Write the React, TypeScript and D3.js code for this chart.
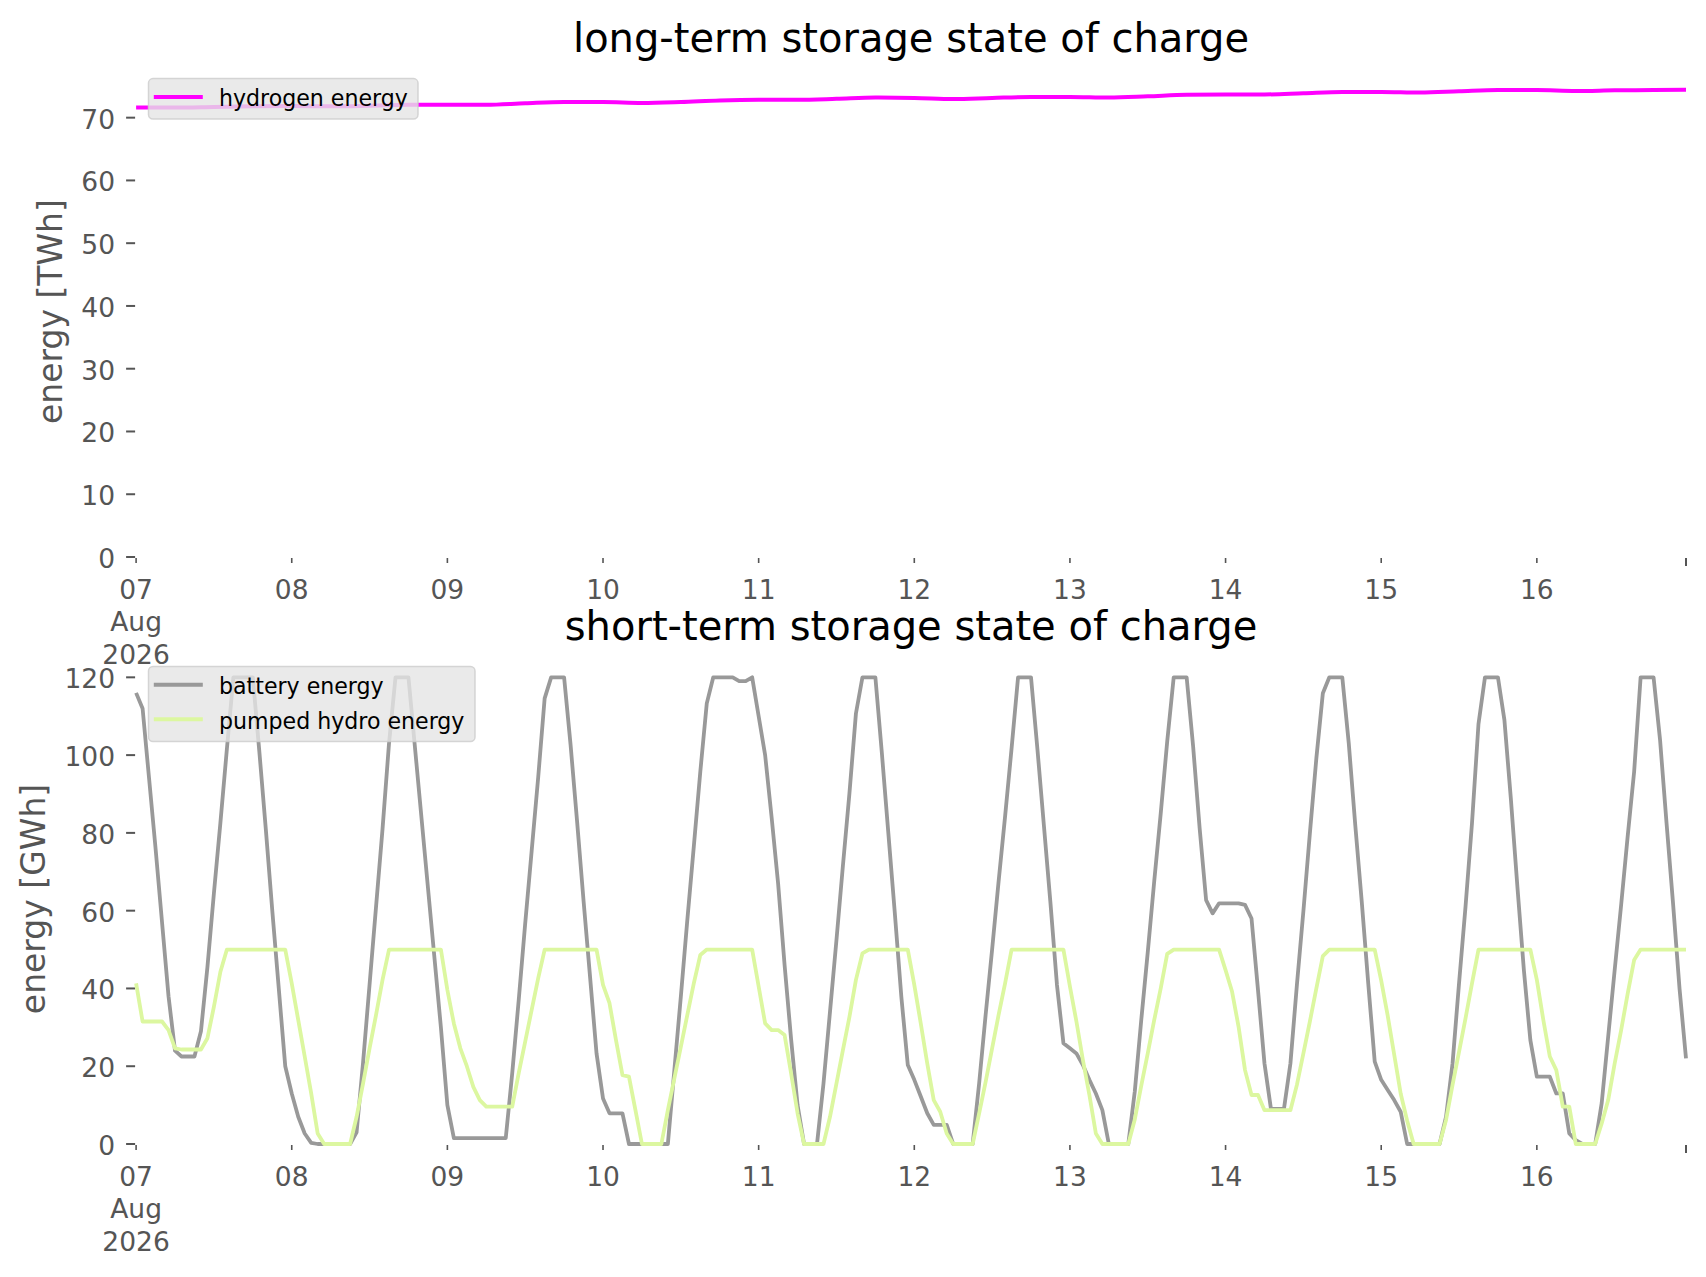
import React from 'react';
import * as d3 from 'd3';

const START = Date.UTC(2026, 7, 7, 0);
const HOUR = 3600e3;

// hourly state of charge, GWh (Aug 07 00:00 .. Aug 16 23:00)
const batteryEnergy = [
  116, 112, 94, 76, 57, 38, 24, 22.5, 22.5, 22.5,
  29, 45.5, 64.5, 82.6, 101.6, 120, 120, 120, 120, 101,
  81, 60, 40, 20, 13, 7, 2.7, 0.3, 0, 0,
  0, 0, 0, 0, 3, 21, 41, 61, 81, 103,
  120, 120, 120, 102, 84, 66, 48, 30, 10, 1.5,
  1.5, 1.5, 1.5, 1.5, 1.5, 1.5, 1.5, 1.5, 18.2, 37,
  56.7, 75.4, 94.2, 114.6, 120, 120, 120, 102.6, 83, 62.5,
  43, 23.3, 11.7, 7.9, 7.9, 7.9, 0, 0, 0, 0,
  0, 0, 0, 19, 37.9, 57.6, 76.5, 95.7, 113.3, 120,
  120, 120, 120, 119, 119, 120, 110, 100, 84, 67,
  46, 27, 10, 0, 0, 0, 15.6, 34, 52.5, 71.7,
  90.2, 110.7, 120, 120, 120, 100.5, 79.9, 59.3, 37.9, 20.3,
  16.5, 12.2, 7.9, 4.9, 4.9, 4.9, 0, 0, 0, 0,
  15.6, 33.2, 50, 67.5, 84.2, 101.7, 120, 120, 120, 101.3,
  81.6, 61.9, 40.9, 25.9, 24.6, 23.3, 20.3, 16.5, 13, 8.7,
  0, 0, 0, 0, 13.5, 31.9, 49.3, 67.6, 85, 103.5,
  120, 120, 120, 102.2, 81.2, 62.7, 59.3, 61.9, 61.9, 61.9,
  61.9, 61.5, 58, 39.6, 20.7, 9, 9, 9, 20.7, 40.9,
  59.9, 79.9, 99.2, 115.9, 120, 120, 120, 103, 82, 62.3,
  41.3, 21.2, 16.5, 13.9, 11.3, 8.3, 0, 0, 0, 0,
  0, 0, 7, 20.7, 41.3, 61, 82.5, 108, 120, 120,
  120, 109, 88.6, 66.2, 44.7, 26.7, 17.3, 17.3, 17.3, 13,
  13, 2.7, 1, 0, 0, 0, 10.5, 27.6, 44.7, 61.5,
  79, 95.7, 120, 120, 120, 103.9, 82.5, 61.9, 40, 22,
];

const pumpedHydroEnergy = [
  41.3, 31.5, 31.5, 31.5, 31.5, 29.3, 24.6, 24.3, 24.3, 24.3,
  24.3, 27.2, 35.3, 44.3, 50, 50, 50, 50, 50, 50,
  50, 50, 50, 50, 41.3, 31.9, 22.5, 13, 2.7, 0,
  0, 0, 0, 0, 7, 15.6, 24.6, 33.2, 42.2, 50,
  50, 50, 50, 50, 50, 50, 50, 50, 39.6, 31,
  24.6, 20, 14.7, 11.3, 9.6, 9.6, 9.6, 9.6, 9.6, 18.2,
  26.3, 34.5, 42.6, 50, 50, 50, 50, 50, 50, 50,
  50, 50, 40.9, 36.2, 26.7, 17.7, 17.3, 8.7, 0, 0,
  0, 0, 8.7, 16.9, 25, 33.2, 41.3, 48.6, 50, 50,
  50, 50, 50, 50, 50, 50, 40.5, 31, 29.3, 29.3,
  28, 18.2, 7.9, 0, 0, 0, 0, 7, 15.6, 24.2,
  32.7, 42.2, 49, 50, 50, 50, 50, 50, 50, 50,
  40.9, 31, 20.7, 11.3, 8.3, 2.7, 0, 0, 0, 0,
  7.9, 16, 24.6, 33.2, 41.3, 50, 50, 50, 50, 50,
  50, 50, 50, 50, 40.5, 31.5, 21.6, 12.6, 2.7, 0,
  0, 0, 0, 0, 6.3, 15, 23.3, 31.9, 40, 48.9,
  50, 50, 50, 50, 50, 50, 50, 50, 44.7, 39.2,
  30.2, 19, 12.6, 12.6, 8.7, 8.7, 8.7, 8.7, 8.7, 15.2,
  23.3, 31.5, 40, 48.3, 50, 50, 50, 50, 50, 50,
  50, 50, 42, 33, 23, 13, 6, 0, 0, 0,
  0, 0, 6.2, 15.2, 23.7, 32.3, 41.3, 50, 50, 50,
  50, 50, 50, 50, 50, 50, 42.2, 31.9, 22.5, 19,
  9.6, 9.6, 0, 0, 0, 0, 5.3, 11.3, 20.7, 29.3,
  38.6, 47.3, 50, 50, 50, 50, 50, 50, 50, 50,
];

// hydrogen state of charge, TWh, read every 6 hours
const hydrogenHours = [
  0, 6, 12, 18, 24, 30, 36, 42, 48, 54, 60, 66, 72, 78, 84, 90, 96, 102, 108, 114,
  120, 126, 132, 138, 144, 150, 156, 162, 168, 174, 180, 186, 192, 198, 204, 210,
  216, 222, 228, 234, 239,
];
const hydrogenEnergy = [
  71.6, 71.6, 71.7, 71.8, 71.85, 71.8, 71.9, 72.05, 72.05, 72.05, 72.3, 72.5, 72.5,
  72.35, 72.5, 72.75, 72.85, 72.85, 73.0, 73.2, 73.15, 72.97, 73.15, 73.3, 73.3,
  73.2, 73.4, 73.65, 73.7, 73.7, 73.9, 74.1, 74.1, 74.0, 74.2, 74.4, 74.4, 74.25,
  74.35, 74.4, 74.45,
];

const dayTickLabels = ['07\nAug\n2026', '08', '09', '10', '11', '12', '13', '14', '15', '16'];
const topYTicks = [0, 10, 20, 30, 40, 50, 60, 70];
const bottomYTicks = [0, 20, 40, 60, 80, 100, 120];

const FONT = '"DejaVu Sans", Verdana, sans-serif';
const TICK_COLOR = '#555555';
const C_H2 = '#ff00ff';
const C_BAT = '#999999';
const C_PHS = '#dcf7a0';

type Panel = {
  top: number;
  bottom: number;
  yMax: number;
  yTicks: number[];
  title: string;
  ylabel: string;
  ylabelX: number;
};

export default function App() {
  const W = 1706;
  const H = 1277;
  const x = d3
    .scaleUtc()
    .domain([new Date(START), new Date(START + 239 * HOUR)])
    .range([136.1, 1686]);

  const topPanel: Panel = {
    top: 66.2, bottom: 557, yMax: 78.2, yTicks: topYTicks,
    title: 'long-term storage state of charge', ylabel: 'energy [TWh]', ylabelX: 62,
  };
  const botPanel: Panel = {
    top: 654, bottom: 1144, yMax: 126, yTicks: bottomYTicks,
    title: 'short-term storage state of charge', ylabel: 'energy [GWh]', ylabelX: 45,
  };

  const yTop = d3.scaleLinear().domain([0, topPanel.yMax]).range([topPanel.bottom, topPanel.top]);
  const yBot = d3.scaleLinear().domain([0, botPanel.yMax]).range([botPanel.bottom, botPanel.top]);

  const lineTop = d3
    .line<number>()
    .x((_, i) => x(new Date(START + hydrogenHours[i] * HOUR)))
    .y((d) => yTop(d))
    .curve(d3.curveMonotoneX);
  const lineBot = d3
    .line<number>()
    .x((_, i) => x(new Date(START + i * HOUR)))
    .y((d) => yBot(d));

  const dayTicks = d3.utcDay.range(new Date(START), new Date(START + 240 * HOUR));
  const endTick = new Date(START + 239 * HOUR);

  const renderAxes = (p: Panel, y: d3.ScaleLinear<number, number>) => {
    const x0 = x.range()[0];
    const xMid = (x.range()[0] + x.range()[1]) / 2;
    return (
      <g>
        <text x={xMid} y={p.top - 14} textAnchor="middle" fontSize={40} fill="#000" fontFamily={FONT}>
          {p.title}
        </text>
        <text
          transform={`translate(${p.ylabelX},${(p.top + p.bottom) / 2}) rotate(-90)`}
          textAnchor="middle"
          fontSize={33}
          fill={TICK_COLOR}
          fontFamily={FONT}
        >
          {p.ylabel}
        </text>
        {p.yTicks.map((t) => (
          <g key={'y' + t}>
            <line x1={x0 - 10} x2={x0 - 1} y1={y(t)} y2={y(t)} stroke={TICK_COLOR} strokeWidth={2} />
            <text x={115} y={y(t) + 11} textAnchor="end" fontSize={26.5} fill={TICK_COLOR} fontFamily={FONT}>
              {t}
            </text>
          </g>
        ))}
        {dayTicks.map((d, i) => (
          <g key={'x' + i}>
            <line x1={x(d)} x2={x(d)} y1={p.bottom + 1} y2={p.bottom + 6} stroke={TICK_COLOR} strokeWidth={1.6} />
            <text textAnchor="middle" fontSize={26.5} fill={TICK_COLOR} fontFamily={FONT}>
              {dayTickLabels[i].split('\n').map((s, k) => (
                <tspan key={k} x={x(d)} y={p.bottom + 41.5 + k * 32.5}>
                  {s}
                </tspan>
              ))}
            </text>
          </g>
        ))}
        <line
          x1={x(endTick)}
          x2={x(endTick)}
          y1={p.bottom + 1}
          y2={p.bottom + 9}
          stroke={TICK_COLOR}
          strokeWidth={2}
        />
      </g>
    );
  };

  const legend = (
    top: number,
    width: number,
    items: { label: string; color: string }[]
  ) => {
    const left = 148.5;
    const rowH = 34.5;
    const h = 40.5 + (items.length - 1) * rowH;
    return (
      <g>
        <rect
          x={left}
          y={top}
          width={width}
          height={h}
          rx={4.5}
          ry={4.5}
          fill="#e5e5e5"
          fillOpacity={0.8}
          stroke="#cccccc"
          strokeOpacity={0.8}
          strokeWidth={1.5}
        />
        {items.map((it, k) => (
          <g key={it.label}>
            <line
              x1={left + 5.3}
              x2={left + 54.3}
              y1={top + 18.3 + k * rowH}
              y2={top + 18.3 + k * rowH}
              stroke={it.color}
              strokeWidth={4}
            />
            <text
              x={left + 70.5}
              y={top + 27.5 + k * rowH}
              fontSize={22.1}
              fill="#000"
              fontFamily={FONT}
            >
              {it.label}
            </text>
          </g>
        ))}
      </g>
    );
  };

  return (
    <svg
      width={W}
      height={H}
      viewBox={`0 0 ${W} ${H}`}
      style={{ position: 'absolute', left: 0, top: 0, background: '#fff' }}
    >
      <rect x={0} y={0} width={W} height={H} fill="#fff" />
      {renderAxes(topPanel, yTop)}
      <path d={lineTop(hydrogenEnergy) || ''} fill="none" stroke={C_H2} strokeWidth={4} strokeLinejoin="round" />
      {legend(78.6, 269.5, [{ label: 'hydrogen energy', color: C_H2 }])}

      {renderAxes(botPanel, yBot)}
      <path d={lineBot(batteryEnergy) || ''} fill="none" stroke={C_BAT} strokeWidth={3.8} strokeLinejoin="round" />
      <path d={lineBot(pumpedHydroEnergy) || ''} fill="none" stroke={C_PHS} strokeWidth={3.8} strokeLinejoin="round" />
      {legend(666.5, 326.5, [
        { label: 'battery energy', color: C_BAT },
        { label: 'pumped hydro energy', color: C_PHS },
      ])}
    </svg>
  );
}
